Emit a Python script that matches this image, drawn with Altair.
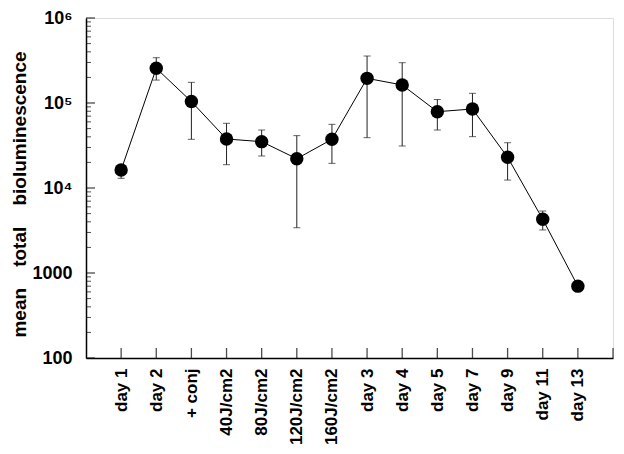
import altair as alt
import pandas as pd

categories = ["day 1", "day 2", "+ conj", "40J/cm2", "80J/cm2", "120J/cm2", "160J/cm2",
              "day 3", "day 4", "day 5", "day 7", "day 9", "day 11", "day 13"]
means = [16300, 256000, 104000, 37700, 35100, 22100, 37400,
         195000, 163000, 79000, 85000, 23000, 4290, 700]
upper = [18500, 341000, 175000, 57700, 48100, 41300, 56100,
         357000, 298000, 110000, 130000, 34100, 5360, None]
lower = [13000, 186000, 37400, 18800, 23800, 3410, 19500,
         39100, 31200, 48100, 40200, 12400, 3210, None]

y_major = [100, 1000, 10000, 100000, 1000000]
y_labels = ["100", "1000", "10\u2074", "10\u2075", "10\u2076"]
y_minor = [m * 10 ** k for k in range(2, 6) for m in range(2, 10)]
x_ticks = list(range(1, len(categories) + 2))

df = pd.DataFrame({"idx": list(range(1, len(categories) + 1)), "cat": categories,
                   "mean": means, "hi": upper, "lo": lower})
err = df.dropna(subset=["hi", "lo"])

FONT = "Liberation Sans, Arial, Helvetica, sans-serif"

label_arr = "[" + ",".join("'" + c + "'" for c in categories) + "]"
x_label_expr = f"datum.value <= {len(categories)} ? {label_arr}[datum.value - 1] : ''"
y_label_map = "{" + ",".join(f"'{v}':'{l}'" for v, l in zip(y_major, y_labels)) + "}"
y_label_expr = f"{y_label_map}[datum.value + '']"

xscale = alt.Scale(domain=[0, 15], nice=False, zero=False)
yscale = alt.Scale(type="log", domain=[100, 1000000], nice=False)

x_axis = alt.Axis(
    values=list(range(1, len(categories) + 1)), labelExpr=x_label_expr,
    labelAngle=270, labelAlign="right", labelBaseline="middle",
    labelFont=FONT, labelFontSize=17, labelFontWeight="bold", labelColor="black",
    labelPadding=10, ticks=False, grid=False, domainColor="black", domainWidth=1.5,
    title=None, labelOverlap=False)

title_txt = "mean\u00a0\u00a0\u00a0\u00a0total\u00a0\u00a0\u00a0\u00a0bioluminescence"
y_axis = alt.Axis(
    values=y_major, labelExpr=y_label_expr,
    labelFont=FONT, labelFontSize=18, labelFontWeight="bold", labelColor="black",
    labelPadding=14, labelBaseline="middle", ticks=False, grid=False,
    domainColor="black", domainWidth=1.5,
    title=title_txt, titleFont=FONT, titleFontSize=19, titleFontWeight="bold",
    titleColor="black", titleAngle=270, titleX=-61, titleY=176,
    titleAlign="center", titleBaseline="alphabetic", labelOverlap=False)

base = alt.Chart(df)

line = base.mark_line(color="black", strokeWidth=1).encode(
    x=alt.X("idx:Q", scale=xscale, axis=x_axis),
    y=alt.Y("mean:Q", scale=yscale, axis=y_axis))
points = base.mark_circle(color="black", opacity=1, size=180).encode(
    x=alt.X("idx:Q", scale=xscale), y=alt.Y("mean:Q", scale=yscale))

err_base = alt.Chart(err)
err_rule = err_base.mark_rule(color="#222", strokeWidth=1).encode(
    x=alt.X("idx:Q", scale=xscale),
    y=alt.Y("lo:Q", scale=yscale), y2="hi:Q")
cap_hi = err_base.mark_tick(color="#222", orient="horizontal", size=7, thickness=1).encode(
    x=alt.X("idx:Q", scale=xscale), y=alt.Y("hi:Q", scale=yscale))
cap_lo = err_base.mark_tick(color="#222", orient="horizontal", size=7, thickness=1).encode(
    x=alt.X("idx:Q", scale=xscale), y=alt.Y("lo:Q", scale=yscale))

ymaj_ticks = alt.Chart(pd.DataFrame({"v": y_major})).mark_tick(
    color="black", orient="horizontal", size=9, thickness=1.3, xOffset=4.5).encode(
    y=alt.Y("v:Q", scale=yscale), x=alt.datum(0, scale=xscale))
ymin_ticks = alt.Chart(pd.DataFrame({"v": y_minor})).mark_tick(
    color="black", orient="horizontal", size=5, thickness=1, xOffset=2.5).encode(
    y=alt.Y("v:Q", scale=yscale), x=alt.datum(0, scale=xscale))
x_tick_marks = alt.Chart(pd.DataFrame({"t": x_ticks})).mark_tick(
    color="black", orient="vertical", size=10, thickness=1.3, yOffset=-5).encode(
    x=alt.X("t:Q", scale=xscale), y=alt.datum(100, scale=yscale))

chart = alt.layer(
    line, err_rule, cap_hi, cap_lo, points, ymaj_ticks, ymin_ticks, x_tick_marks
).properties(
    width=527, height=340,
    autosize=alt.AutoSizeParams(type="none"),
    padding={"left": 78, "top": 10, "right": 3, "bottom": 88},
).configure_view(strokeWidth=0, stroke="transparent").configure_axis(
    ticks=False, grid=False, domainColor="black", domainWidth=1.5
).configure(background="white")

chart.save("out.html", embed_options={"renderer": "svg", "actions": False})
